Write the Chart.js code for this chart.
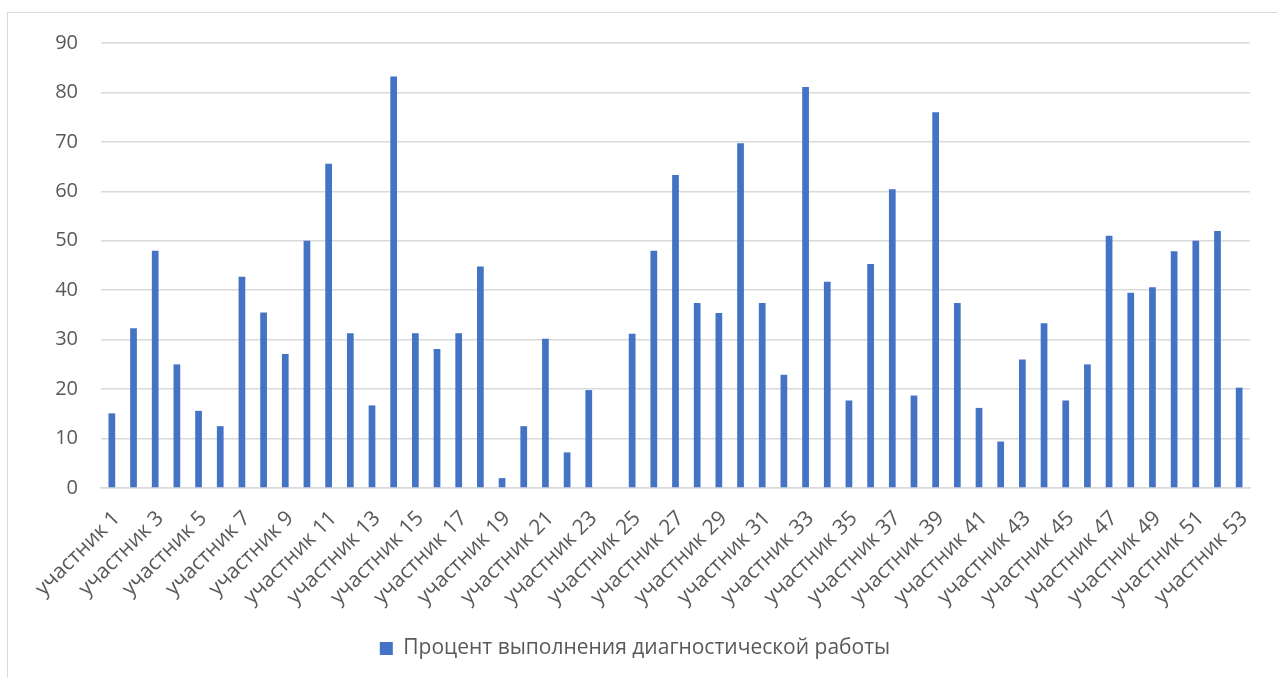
<!DOCTYPE html>
<html>
<head>
<meta charset="utf-8">
<script src="https://cdn.jsdelivr.net/npm/chart.js@4"></script>
<style>
  html, body { margin: 0; padding: 0; background: #fff; }
  #wrap { position: relative; width: 1277px; height: 678px; overflow: hidden; }
  #frame { position: absolute; left: 7px; top: 12px; width: 1290px; height: 700px; border: 1.5px solid #d9d9d9; box-sizing: border-box; }
  #cv { position: absolute; left: 0; top: 0; }
</style>
</head>
<body>
<div id="wrap">
  <div id="frame"></div>
  <canvas id="cv" width="1277" height="678"></canvas>
</div>
<script>
// participants 1..53
var participants = [];
for (var i = 1; i <= 53; i++) participants.push("участник " + i);

var seriesName = "Процент выполнения диагностической работы";

var percentDone = [
  15.1, 32.3, 48.0, 25.0, 15.6, 12.5, 42.7, 35.5, 27.1, 50.0,
  65.6, 31.3, 16.7, 83.2, 31.3, 28.1, 31.3, 44.8, 2.0, 12.5,
  30.2, 7.2, 19.8, 0, 31.2, 48.0, 63.3, 37.4, 35.4, 69.7,
  37.4, 22.9, 81.1, 41.7, 17.7, 45.3, 60.4, 18.7, 76.0, 37.4,
  16.2, 9.4, 26.0, 33.3, 17.7, 25.0, 51.0, 39.5, 40.6, 47.9,
  50.0, 52.0, 20.3
];

var yTicks = [0, 10, 20, 30, 40, 50, 60, 70, 80, 90];

var textColor = "#595959";
var fontFamily = "'Open Sans', 'Noto Sans', sans-serif";

var chart = new Chart(document.getElementById("cv"), {
  type: "bar",
  data: {
    labels: participants,
    datasets: [{
      label: seriesName,
      data: percentDone,
      backgroundColor: "#4472C4",
      borderWidth: 0,
      barPercentage: 0.31,
      categoryPercentage: 1.0
    }]
  },
  options: {
    responsive: false,
    animation: false,
    devicePixelRatio: 1,
    layout: { padding: { left: 20, right: 27, top: 43, bottom: 9 } },
    scales: {
      x: {
        grid: { display: false, drawTicks: false },
        border: { color: "#d9d9d9", width: 1.5 },
        afterFit: function (scale) { scale.height = 140; },
        ticks: {
          color: textColor,
          font: { family: fontFamily, size: 21 },
          maxRotation: 45,
          minRotation: 45,
          autoSkip: false,
          padding: 18,
          labelOffset: 5,
          callback: function (v, i) { return i % 2 === 0 ? this.getLabelForValue(v) : ""; }
        }
      },
      y: {
        min: 0,
        max: 90,
        afterBuildTicks: function (scale) { scale.ticks = yTicks.map(function (v) { return { value: v }; }); },
        afterFit: function (scale) { scale.width = 81; },
        grid: { color: "#d9d9d9", lineWidth: 1.5, drawTicks: false },
        border: { display: false },
        ticks: {
          color: textColor,
          font: { family: fontFamily, size: 20 },
          padding: 23
        }
      }
    },
    plugins: {
      tooltip: { enabled: false },
      legend: {
        position: "bottom",
        labels: {
          color: textColor,
          font: { family: fontFamily, size: 21 },
          boxWidth: 13,
          boxHeight: 13,
          padding: 10
        }
      }
    }
  }
});
</script>
</body>
</html>
